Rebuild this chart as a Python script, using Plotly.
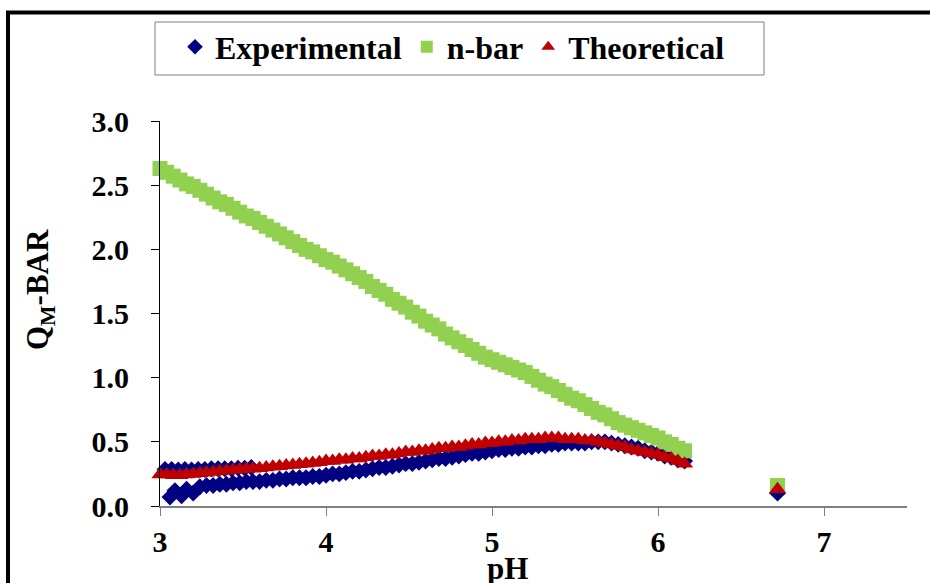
import plotly.graph_objects as go

# ---- data ----
ph = [3.00, 3.04, 3.08, 3.12, 3.16, 3.20, 3.24, 3.28, 3.32, 3.36,
      3.40, 3.44, 3.48, 3.52, 3.56, 3.60, 3.64, 3.68, 3.72, 3.76,
      3.80, 3.84, 3.88, 3.92, 3.96, 4.00, 4.04, 4.08, 4.12, 4.16,
      4.20, 4.24, 4.28, 4.32, 4.36, 4.40, 4.44, 4.48, 4.52, 4.56,
      4.60, 4.64, 4.68, 4.72, 4.76, 4.80, 4.84, 4.88, 4.92, 4.96,
      5.00, 5.04, 5.08, 5.12, 5.16, 5.20, 5.24, 5.28, 5.32, 5.36,
      5.40, 5.44, 5.48, 5.52, 5.56, 5.60, 5.64, 5.68, 5.72, 5.76,
      5.80, 5.84, 5.88, 5.92, 5.96, 6.00, 6.04, 6.08, 6.12, 6.16,
      6.72]

n_bar = [2.63, 2.60, 2.57, 2.54, 2.51, 2.49, 2.46, 2.43, 2.40, 2.37,
         2.35, 2.32, 2.29, 2.26, 2.24, 2.21, 2.18, 2.15, 2.12, 2.09,
         2.06, 2.03, 2.00, 1.98, 1.95, 1.92, 1.90, 1.87, 1.84, 1.81,
         1.78, 1.75, 1.71, 1.68, 1.65, 1.61, 1.58, 1.55, 1.51, 1.48,
         1.44, 1.41, 1.38, 1.34, 1.31, 1.28, 1.25, 1.22, 1.19, 1.16,
         1.14, 1.12, 1.10, 1.08, 1.06, 1.04, 1.01, 0.98, 0.95, 0.93,
         0.90, 0.87, 0.84, 0.82, 0.79, 0.76, 0.73, 0.71, 0.68, 0.65,
         0.63, 0.61, 0.59, 0.57, 0.55, 0.53, 0.50, 0.48, 0.45, 0.43,
         0.16]

theoretical = [0.245, 0.245, 0.24, 0.24, 0.245, 0.25, 0.255, 0.26, 0.265, 0.27,
               0.275, 0.28, 0.285, 0.29, 0.29, 0.295, 0.30, 0.305, 0.31, 0.315,
               0.32, 0.325, 0.33, 0.335, 0.34, 0.35, 0.35, 0.36, 0.36, 0.37,
               0.37, 0.38, 0.39, 0.39, 0.40, 0.40, 0.41, 0.42, 0.42, 0.43,
               0.43, 0.44, 0.45, 0.45, 0.46, 0.46, 0.47, 0.48, 0.48, 0.49,
               0.49, 0.50, 0.50, 0.51, 0.51, 0.52, 0.52, 0.52, 0.53, 0.53,
               0.53, 0.52, 0.52, 0.52, 0.51, 0.51, 0.50, 0.49, 0.48, 0.47,
               0.46, 0.44, 0.43, 0.42, 0.41, 0.40, 0.38, 0.37, 0.35, 0.33,
               0.13]

exp_ph = [2.99, 3.03, 3.07, 3.11, 3.15, 3.19, 3.23, 3.27, 3.31, 3.35,
          3.39, 3.43, 3.47, 3.51, 3.55,
          3.06, 3.09, 3.13, 3.16, 3.20, 3.24, 3.28, 3.32, 3.36, 3.40,
          3.44, 3.48, 3.52, 3.56, 3.60, 3.64, 3.68, 3.72, 3.76, 3.80,
          3.84, 3.88, 3.92, 3.96, 4.00, 4.04, 4.08, 4.12, 4.16, 4.20,
          4.24, 4.28, 4.32, 4.36, 4.40, 4.44, 4.48, 4.52, 4.56, 4.60,
          4.64, 4.68, 4.72, 4.76, 4.80, 4.84, 4.88, 4.92, 4.96, 5.00,
          5.04, 5.08, 5.12, 5.16, 5.20, 5.24, 5.28, 5.32, 5.36, 5.40,
          5.44, 5.48, 5.52, 5.56, 5.60, 5.64, 5.68, 5.72, 5.76, 5.80,
          5.84, 5.88, 5.92, 5.96, 6.00, 6.04, 6.08, 6.12, 6.16, 6.72]

experimental = [0.28, 0.285, 0.285, 0.28, 0.285, 0.28, 0.285, 0.285, 0.29, 0.29,
                0.29, 0.29, 0.295, 0.295, 0.30,
                0.07, 0.12, 0.08, 0.13, 0.10, 0.15, 0.16, 0.16, 0.17, 0.17,
                0.18, 0.18, 0.19, 0.19, 0.19, 0.20, 0.20, 0.21, 0.21, 0.22,
                0.22, 0.22, 0.23, 0.23, 0.24, 0.25, 0.25, 0.26, 0.27, 0.27,
                0.28, 0.29, 0.30, 0.30, 0.31, 0.32, 0.33, 0.33, 0.34, 0.35,
                0.36, 0.37, 0.37, 0.38, 0.39, 0.40, 0.41, 0.41, 0.42, 0.43,
                0.44, 0.44, 0.45, 0.45, 0.46, 0.46, 0.47, 0.47, 0.48, 0.48,
                0.49, 0.49, 0.49, 0.49, 0.50, 0.50, 0.50, 0.49, 0.48, 0.47,
                0.46, 0.45, 0.43, 0.42, 0.41, 0.39, 0.38, 0.36, 0.35, 0.10]

y_ticks = [0.0, 0.5, 1.0, 1.5, 2.0, 2.5, 3.0]
x_ticks = [3, 4, 5, 6, 7]

FONT = "Liberation Serif, Times New Roman, serif"
TICK_SIZE = 30
TITLE_SIZE = 31
LEG_SIZE = 32

fig = go.Figure()
fig.add_trace(go.Scatter(x=exp_ph, y=experimental, mode="markers", name="Experimental",
                         cliponaxis=False,
                         marker=dict(symbol="diamond", size=13, color="#000080",
                                     line=dict(width=0))))
fig.add_trace(go.Scatter(x=ph, y=n_bar, mode="markers", name="n-bar",
                         cliponaxis=False,
                         marker=dict(symbol="square", size=15, color="#92D050",
                                     line=dict(width=0))))
fig.add_trace(go.Scatter(x=ph, y=theoretical, mode="markers", name="Theoretical",
                         cliponaxis=False,
                         marker=dict(symbol="triangle-up", size=15, color="#C00000",
                                     line=dict(width=0))))

L, R, T, B = 160, 23, 121, 77
W, H = 930, 583
pw, ph_ = W - L - R, H - T - B

def px_x(p):
    return (p - L) / pw

def px_y(p):
    return (H - B - p) / ph_

fig.update_layout(
    width=W, height=H,
    margin=dict(l=L, r=R, t=T, b=B, pad=0),
    paper_bgcolor="white", plot_bgcolor="white",
    font=dict(family=FONT, size=TICK_SIZE, color="black", weight="bold"),
    showlegend=True,
    legend=dict(orientation="h", x=px_x(175), y=px_y(47), xanchor="left", yanchor="middle",
                borderwidth=0, bgcolor="rgba(0,0,0,0)",
                font=dict(family=FONT, size=LEG_SIZE, color="black", weight="bold"),
                itemsizing="constant"),
    xaxis=dict(range=[3, 7.5], tickvals=x_ticks, ticktext=[str(v) for v in x_ticks],
               showgrid=False, zeroline=False, showline=True, linecolor="#808080",
               linewidth=2, ticks="outside", ticklen=8, tickcolor="#808080", tickwidth=1,
               tickfont=dict(family=FONT, size=TICK_SIZE, color="black", weight="bold")),
    yaxis=dict(range=[0, 3], tickvals=y_ticks, ticktext=[f"{v:.1f}" for v in y_ticks],
               showgrid=False, zeroline=False, showline=True, linecolor="black",
               linewidth=1, ticks="outside", ticklen=8, tickcolor="black", tickwidth=1,
               ticklabelstandoff=16,
               tickfont=dict(family=FONT, size=TICK_SIZE, color="black", weight="bold")),
    annotations=[
        dict(text="pH", xref="paper", yref="paper", x=px_x(507), y=px_y(568),
             xanchor="center", yanchor="middle", showarrow=False,
             font=dict(family=FONT, size=TITLE_SIZE, color="black", weight="bold")),
        dict(text="Q<sub>M</sub>-BAR", xref="paper", yref="paper", x=px_x(40), y=px_y(290),
             xanchor="center", yanchor="middle", showarrow=False, textangle=-90,
             font=dict(family=FONT, size=TITLE_SIZE, color="black", weight="bold")),
    ],
    shapes=[
        dict(type="rect", xref="paper", yref="paper", x0=px_x(8), y0=px_y(700),
             x1=px_x(1000), y1=px_y(12.5), line=dict(color="black", width=4),
             fillcolor="rgba(0,0,0,0)", layer="below"),
        dict(type="rect", xref="paper", yref="paper", x0=px_x(155), y0=px_y(75),
             x1=px_x(764), y1=px_y(22), line=dict(color="#808080", width=1),
             fillcolor="white", layer="below"),
    ],
)

fig.write_html("out.html")
